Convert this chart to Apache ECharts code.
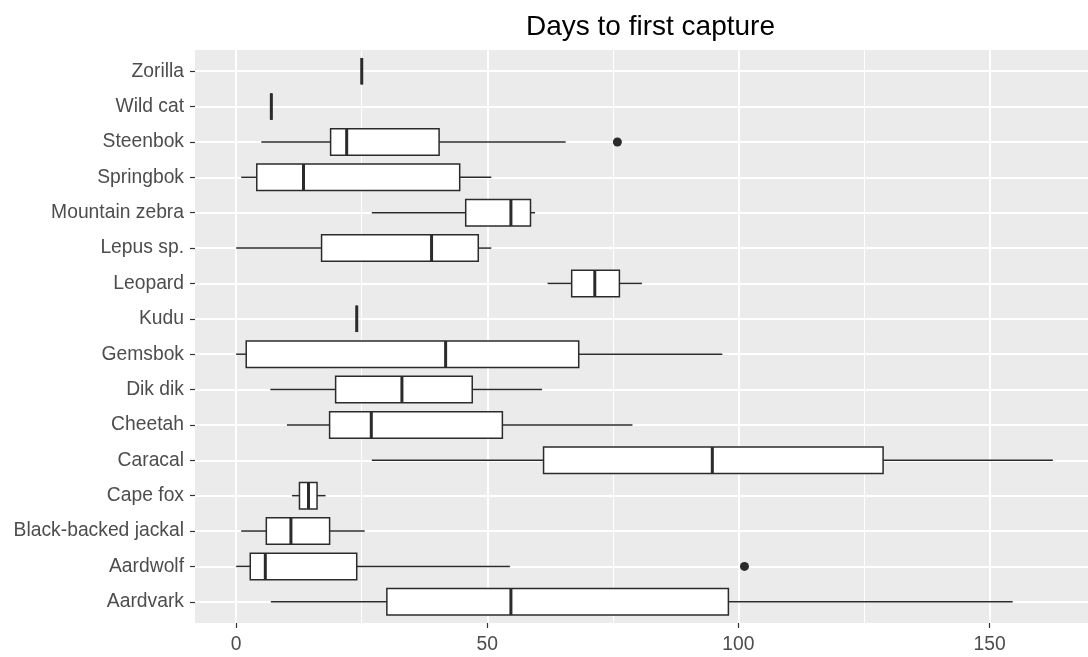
<!DOCTYPE html>
<html>
<head>
<meta charset="utf-8">
<script src="https://cdn.jsdelivr.net/npm/echarts@6/dist/echarts.min.js"></script>
<style>
  html, body { margin: 0; padding: 0; background: #fff; }
  #chart { width: 1088px; height: 657px; }
</style>
</head>
<body>
<div id="chart"></div>
<script>
// species, bottom to top
const species = ['Aardvark', 'Aardwolf', 'Black-backed jackal', 'Cape fox', 'Caracal',
  'Cheetah', 'Dik dik', 'Gemsbok', 'Kudu', 'Leopard', 'Lepus sp.', 'Mountain zebra',
  'Springbok', 'Steenbok', 'Wild cat', 'Zorilla'];
const lowWhisker  = [6.9, 0, 1.0, 11.1, 27.0, 10.1, 6.8, 0, 24, 62.0, 0, 27.0, 1.0, 5.0, 7, 25];
const q1          = [30.0, 2.8, 6.0, 12.6, 61.2, 18.6, 19.8, 2.0, 24, 66.8, 17.0, 45.7, 4.1, 18.8, 7, 25];
const medians     = [54.7, 5.8, 10.9, 14.4, 94.8, 26.9, 33.0, 41.7, 24, 71.4, 38.9, 54.7, 13.4, 22.0, 7, 25];
const q3          = [98.0, 24.0, 18.6, 16.1, 128.8, 53.0, 47.0, 68.2, 24, 76.3, 48.2, 58.6, 44.5, 40.4, 7, 25];
const highWhisker = [154.6, 54.5, 25.6, 17.8, 162.6, 78.9, 60.9, 96.8, 24, 80.8, 50.8, 59.5, 50.8, 65.6, 7, 25];
// outliers: [days, species index]
const outliers = [[75.9, 13], [101.2, 1]];
const majorTicks = [0, 50, 100, 150];
const minorTicks = [25, 75, 125];

const catIndex = species.map((s, i) => i);
const boxData = species.map((s, i) => [i, lowWhisker[i], q1[i], medians[i], q3[i], highWhisker[i]]);

const chart = echarts.init(document.getElementById('chart'));

const renderBox = (params, api) => {
  let y = api.value(0);
  let pLow = api.coord([api.value(1), y]);
  let pQ1 = api.coord([api.value(2), y]);
  let pMed = api.coord([api.value(3), y]);
  let pQ3 = api.coord([api.value(4), y]);
  let pHigh = api.coord([api.value(5), y]);
  let half = api.size([0, 1])[1] * 0.375;
  let cy = pMed[1];
  let stroke = '#2b2b2b';
  return {
    type: 'group',
    children: [
      { type: 'line', shape: { x1: pLow[0], y1: cy, x2: pQ1[0], y2: cy },
        style: { stroke: stroke, lineWidth: 1.5 } },
      { type: 'line', shape: { x1: pQ3[0], y1: cy, x2: pHigh[0], y2: cy },
        style: { stroke: stroke, lineWidth: 1.5 } },
      { type: 'rect', shape: { x: pQ1[0], y: cy - half, width: pQ3[0] - pQ1[0], height: half * 2 },
        style: { fill: '#ffffff', stroke: stroke, lineWidth: 1.5 } },
      { type: 'line', shape: { x1: pMed[0], y1: cy - half, x2: pMed[0], y2: cy + half },
        style: { stroke: stroke, lineWidth: 3 } },
    ],
  };
};

const axisTickStyle = { color: '#333', width: 1.2 };

chart.setOption({
  animation: false,
  title: {
    text: 'Days to first capture',
    left: 521,
    top: 8,
    textStyle: { fontFamily: 'Liberation Sans', fontSize: 28, fontWeight: 'normal', color: '#000' },
  },
  grid: {
    left: 195,
    right: 0,
    top: 50,
    bottom: 34,
    show: true,
    backgroundColor: '#ebebeb',
    borderWidth: 0,
  },
  xAxis: {
    type: 'value',
    min: -8.2,
    max: 169.6,
    axisLine: { show: true, onZero: false, lineStyle: { color: 'rgba(0,0,0,0)' } },
    splitLine: { show: false },
    axisTick: { show: true, length: 5, customValues: majorTicks, lineStyle: axisTickStyle },
    axisLabel: {
      customValues: majorTicks,
      margin: 12,
      fontFamily: 'Liberation Sans',
      fontSize: 19.3,
      color: '#4d4d4d',
    },
  },
  yAxis: {
    type: 'value',
    min: -0.6,
    max: 15.6,
    axisLine: { show: true, onZero: false, lineStyle: { color: 'rgba(0,0,0,0)' } },
    splitLine: { show: false },
    axisTick: { show: true, length: 5, customValues: catIndex, lineStyle: axisTickStyle },
    axisLabel: {
      customValues: catIndex,
      margin: 11,
      fontFamily: 'Liberation Sans',
      fontSize: 19.3,
      lineHeight: 24,
      verticalAlign: 'middle',
      padding: [4, 0, 0, 0],
      color: '#4d4d4d',
      formatter: (v) => species[Math.round(v)],
    },
  },
  series: [
    {
      // panel grid lines
      type: 'scatter',
      data: [],
      z: 1,
      silent: true,
      markLine: {
        z: 1,
        silent: true,
        symbol: 'none',
        label: { show: false },
        animation: false,
        data: [
          ...minorTicks.map((v) => ({ xAxis: v, lineStyle: { color: '#fff', width: 1, type: 'solid' } })),
          ...majorTicks.map((v) => ({ xAxis: v, lineStyle: { color: '#fff', width: 2, type: 'solid' } })),
          ...catIndex.map((v) => ({ yAxis: v, lineStyle: { color: '#fff', width: 2, type: 'solid' } })),
        ],
      },
    },
    {
      type: 'custom',
      z: 10,
      renderItem: renderBox,
      encode: { x: [1, 2, 3, 4, 5], y: 0 },
      data: boxData,
    },
    {
      type: 'scatter',
      z: 11,
      symbolSize: 9,
      itemStyle: { color: '#2b2b2b', opacity: 1 },
      data: outliers,
    },
  ],
});
</script>
</body>
</html>
